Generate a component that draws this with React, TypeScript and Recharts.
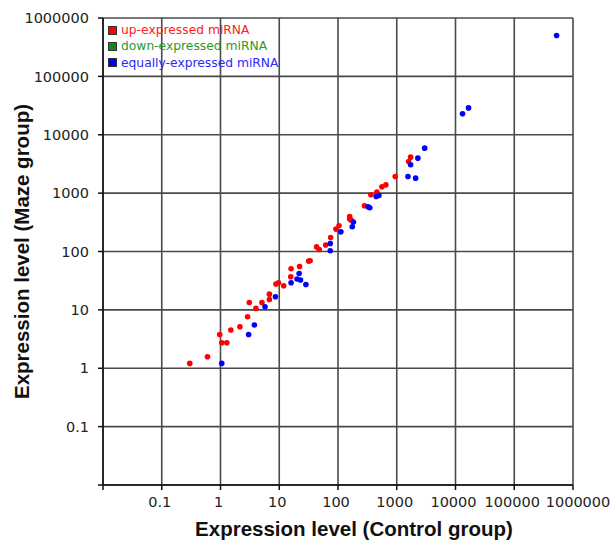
import { ScatterChart, Scatter, XAxis, YAxis, CartesianGrid, Legend, Label } from "recharts";

const logTicks = [0.01, 0.1, 1, 10, 100, 1000, 10000, 100000, 1000000];

// up-expressed miRNA
const upControl = [
  0.3, 0.6, 0.97, 1.05, 1.28, 1.5, 2.14, 2.89, 3.09, 4.01, 5.08, 6.8, 6.8, 8.8, 9.7, 11.9, 15.7, 15.9, 22.2,
  31.6, 33.5, 43.2, 47.9, 61.6, 75, 92, 104, 158, 158, 167, 282, 362, 459, 559, 654, 942, 1592, 1722,
];
const upMaze = [
  1.21, 1.57, 3.79, 2.73, 2.73, 4.51, 5.14, 7.62, 13.4, 10.6, 13.4, 15.1, 18.6, 27.7, 29.1, 25.9, 36.9, 50.6,
  55.3, 68.5, 69.3, 120, 108, 129, 174, 242, 276, 397, 359, 345, 606, 935, 1040, 1282, 1387, 1924, 3475, 4130,
];

// down-expressed miRNA (none in the figure)
const downControl: number[] = [];
const downMaze: number[] = [];

// equally-expressed miRNA
const equalControl = [
  1.05, 3.01, 3.77, 5.72, 8.61, 15.9, 20.1, 23.0, 21.8, 28.4, 73.8, 73.8, 112, 183, 175, 326, 348, 447, 497,
  1553, 2094, 1722, 2287, 2988, 13180, 16680, 526000,
];
const equalMaze = [
  1.21, 3.79, 5.5, 11.3, 16.8, 29.1, 33.7, 32.4, 42, 27.2, 103, 137, 217, 319, 265, 582, 560, 875, 910,
  1924, 1806, 3054, 3975, 5900, 22800, 28850, 500000,
];

const toPoints = (xs: number[], ys: number[]) => xs.map((x, i) => ({ control: x, maze: ys[i] }));

const legendItems = [
  { name: "up-expressed miRNA", color: "#ff0000", text: "#ff2020" },
  { name: "down-expressed miRNA", color: "#108a10", text: "#2a9a2a" },
  { name: "equally-expressed miRNA", color: "#0000ff", text: "#2a2aff" },
];

const dot = (color: string) => (props: any) =>
  <circle cx={props.cx} cy={props.cy} r={2.8} fill={color} />;

const fmt = (v: number) => (v === 0.01 ? "" : String(v));

const tickStyle = { fontFamily: "DejaVu Sans", fontSize: 14.5, fill: "#222" };
const titleStyle = { fontFamily: "Liberation Sans", fontWeight: "bold", fontSize: 20.5, fill: "#111" };

// x labels sit a little left of their ticks, the last one is pushed right so they don't collide
function XTick(props: any) {
  const { x, y, payload, index } = props;
  const last = index === logTicks.length - 1;
  return (
    <text x={x + (last ? 5 : -2)} y={y} dy="0.71em" textAnchor="middle" style={tickStyle}>
      {fmt(payload.value)}
    </text>
  );
}

function LegendBox() {
  return (
    <div style={{ fontFamily: "DejaVu Sans", fontSize: 12.3, lineHeight: "16.3px" }}>
      {legendItems.map((it) => (
        <div key={it.name} style={{ display: "flex", alignItems: "center", color: it.text }}>
          <span
            style={{
              display: "inline-block",
              width: 7,
              height: 7,
              background: it.color,
              border: "1px solid #333",
              marginRight: 4,
            }}
          />
          {it.name}
        </div>
      ))}
    </div>
  );
}

function XTitle(props: any) {
  const vb = props.viewBox;
  return (
    <text x={vb.x + vb.width / 2 + 16} y={vb.y + vb.height - 6} textAnchor="middle" style={titleStyle}>
      Expression level (Control group)
    </text>
  );
}

function YTitle(props: any) {
  const vb = props.viewBox;
  const cy = vb.y + vb.height / 2;
  return (
    <text x={29} y={cy} transform={`rotate(-90 29 ${cy})`} textAnchor="middle" style={titleStyle}>
      Expression level (Maze group)
    </text>
  );
}

export default function App() {
  return (
    <div style={{ position: "absolute", left: 0, top: 0, background: "#fff" }}>
      <ScatterChart width={610} height={542} margin={{ top: 18, right: 37, bottom: 0, left: 0 }}>
        <CartesianGrid stroke="#4a4a4a" strokeWidth={1.6} />
        <XAxis
          type="number"
          dataKey="control"
          scale="log"
          domain={[0.01, 1000000]}
          ticks={logTicks}
          interval={0}
          height={57}
          tickSize={5}
          tickMargin={7}
          stroke="#111"
          strokeWidth={1.5}
          tick={<XTick />}
          allowDataOverflow
        >
          <Label content={<XTitle />} />
        </XAxis>
        <YAxis
          type="number"
          dataKey="maze"
          scale="log"
          domain={[0.01, 1000000]}
          ticks={logTicks}
          tickFormatter={fmt}
          interval={0}
          width={103}
          tickSize={5}
          tickMargin={9}
          stroke="#111"
          strokeWidth={1.5}
          tick={tickStyle}
          allowDataOverflow
        >
          <Label content={<YTitle />} />
        </YAxis>
        <Legend
          layout="horizontal"
          verticalAlign="middle"
          align="center"
          wrapperStyle={{ top: 22, left: 108, width: 220 }}
          content={<LegendBox />}
        />
        <Scatter name="up-expressed miRNA" data={toPoints(upControl, upMaze)} shape={dot("#ff0000")} isAnimationActive={false} />
        <Scatter name="down-expressed miRNA" data={toPoints(downControl, downMaze)} shape={dot("#108a10")} isAnimationActive={false} />
        <Scatter name="equally-expressed miRNA" data={toPoints(equalControl, equalMaze)} shape={dot("#0000ff")} isAnimationActive={false} />
      </ScatterChart>
    </div>
  );
}
